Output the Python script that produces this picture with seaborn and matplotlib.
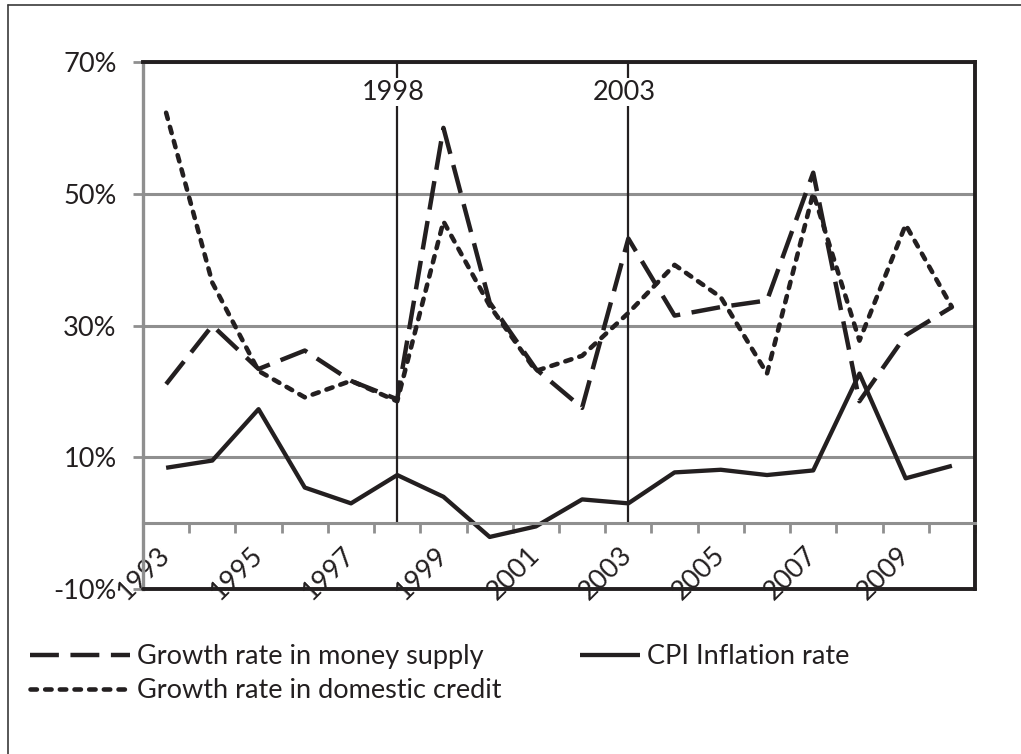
import numpy as np
import pandas as pd
import matplotlib
matplotlib.use("Agg")
import matplotlib.pyplot as plt
import seaborn as sns
from matplotlib.lines import Line2D
from matplotlib.transforms import ScaledTranslation

years = list(range(1993, 2011))
money_supply = [21.1, 30.0, 23.4, 26.2, 21.6, 18.8, 60.0, 33.5, 23.4, 17.5,
                43.2, 31.5, 32.8, 33.8, 53.2, 18.5, 28.5, 32.8]
domestic_credit = [62.3, 36.5, 23.1, 19.1, 21.6, 18.5, 45.8, 33.0, 23.1, 25.4,
                   31.9, 39.2, 34.3, 22.7, 50.1, 27.7, 45.3, 32.8]
cpi_inflation = [8.4, 9.5, 17.3, 5.4, 3.0, 7.3, 4.0, -2.1, -0.5, 3.6,
                 3.0, 7.7, 8.1, 7.3, 8.0, 22.7, 6.8, 8.7]
marker_years = [1998, 2003]
y_ticks = [-10, 10, 30, 50, 70]

sns.set_theme(style="white")
plt.rcParams["font.family"] = ["Lato", "DejaVu Sans"]

INK = "#231f20"
GRID = "#8f8f8f"
FS = 19.5

df = pd.DataFrame({
    "pos": np.arange(len(years)),
    "money": money_supply,
    "credit": domestic_credit,
    "cpi": cpi_inflation,
})

W, H = 1021, 754
fig = plt.figure(figsize=(W / 100, H / 100), dpi=100)
L, R, T, B = 143, 975, 62, 589
ax = fig.add_axes([L / W, 1 - B / H, (R - L) / W, (B - T) / H])

sns.lineplot(data=df, x="pos", y="money", ax=ax, color=INK, lw=3.2,
             label="Growth rate in money supply")
sns.lineplot(data=df, x="pos", y="credit", ax=ax, color=INK, lw=3.3,
             label="Growth rate in domestic credit")
sns.lineplot(data=df, x="pos", y="cpi", ax=ax, color=INK, lw=3.1,
             label="CPI Inflation rate")
lines = ax.get_lines()
l_money, l_credit, l_cpi = lines[0], lines[1], lines[2]
l_money.set_linestyle((0, (6.5, 2.6)))
l_money.set_dash_capstyle("butt")
l_credit.set_linestyle((0, (1.4, 1.8)))
l_credit.set_dash_capstyle("round")
l_cpi.set_solid_capstyle("butt")
if ax.get_legend() is not None:
    ax.get_legend().remove()

ax.set_xlim(-0.5, len(years) - 0.5)
ax.set_ylim(-10, 70)

# vertical markers
for yr in marker_years:
    p = years.index(yr)
    ax.vlines(p, 0, 70, color=INK, lw=1.6, zorder=1)
    ax.text(p - 0.08, 65.4, str(yr), ha="center", va="center", fontsize=FS,
            color=INK, zorder=2,
            bbox=dict(facecolor="white", edgecolor="none", pad=1.0))

# grid
ax.set_yticks(y_ticks)
ax.set_yticklabels([f"{v}%" for v in y_ticks], fontsize=FS, color=INK)
ax.yaxis.grid(True, color=GRID, lw=2.2)
ax.set_axisbelow(True)
ax.tick_params(axis="y", length=7.5, width=2, color=GRID, pad=11.5,
               direction="out", left=True)

# x axis at zero
ax.spines["bottom"].set_position(("data", 0))
ax.spines["bottom"].set_color(GRID)
ax.spines["bottom"].set_linewidth(2.2)
ax.spines["left"].set_color(GRID)
ax.spines["left"].set_linewidth(2.4)
for s in ("top", "right"):
    ax.spines[s].set_color(INK)
    ax.spines[s].set_linewidth(2.8)
ax.axhline(-10, color=INK, lw=2.8, clip_on=False, zorder=3)

lab_pos = np.arange(0, len(years), 2)
ax.set_xticks(lab_pos)
ax.set_xticklabels([str(years[i]) for i in lab_pos], fontsize=FS, color=INK,
                   rotation=45, ha="right", va="top", rotation_mode="default")
ax.tick_params(axis="x", which="major", length=0, pad=14, bottom=True)
shift = ScaledTranslation(9 / 100, 0, fig.dpi_scale_trans)
for lab in ax.get_xticklabels():
    lab.set_transform(lab.get_transform() + shift)
ax.set_xticks(np.arange(-0.5, len(years), 1), minor=True)
ax.tick_params(axis="x", which="minor", length=7.5, width=2, color=GRID,
               direction="out", bottom=True)
ax.set_xlabel("")
ax.set_ylabel("")

# legends
leg1 = fig.legend(handles=[l_money, l_credit],
                  labels=["Growth rate in money supply",
                          "Growth rate in domestic credit"],
                  loc="upper left", bbox_to_anchor=(30 / W, 1 - 644 / H),
                  frameon=False, fontsize=FS, handlelength=3.7,
                  handletextpad=0.26, labelspacing=0.34, borderpad=0,
                  borderaxespad=0, labelcolor=INK)
leg2 = fig.legend(handles=[l_cpi], labels=["CPI Inflation rate"],
                  loc="upper left", bbox_to_anchor=(580 / W, 1 - 644 / H),
                  frameon=False, fontsize=FS, handlelength=2.2,
                  handletextpad=0.26, borderpad=0, borderaxespad=0,
                  labelcolor=INK)

# outer frame
fig.add_artist(Line2D([8 / W, 1.0], [1 - 5 / H, 1 - 5 / H],
                      transform=fig.transFigure, color="#3a3a3a", lw=1.2))
fig.add_artist(Line2D([8 / W, 8 / W], [1 - 5 / H, 0.0],
                      transform=fig.transFigure, color="#3a3a3a", lw=1.2))

fig.savefig("out.png", dpi=100)
